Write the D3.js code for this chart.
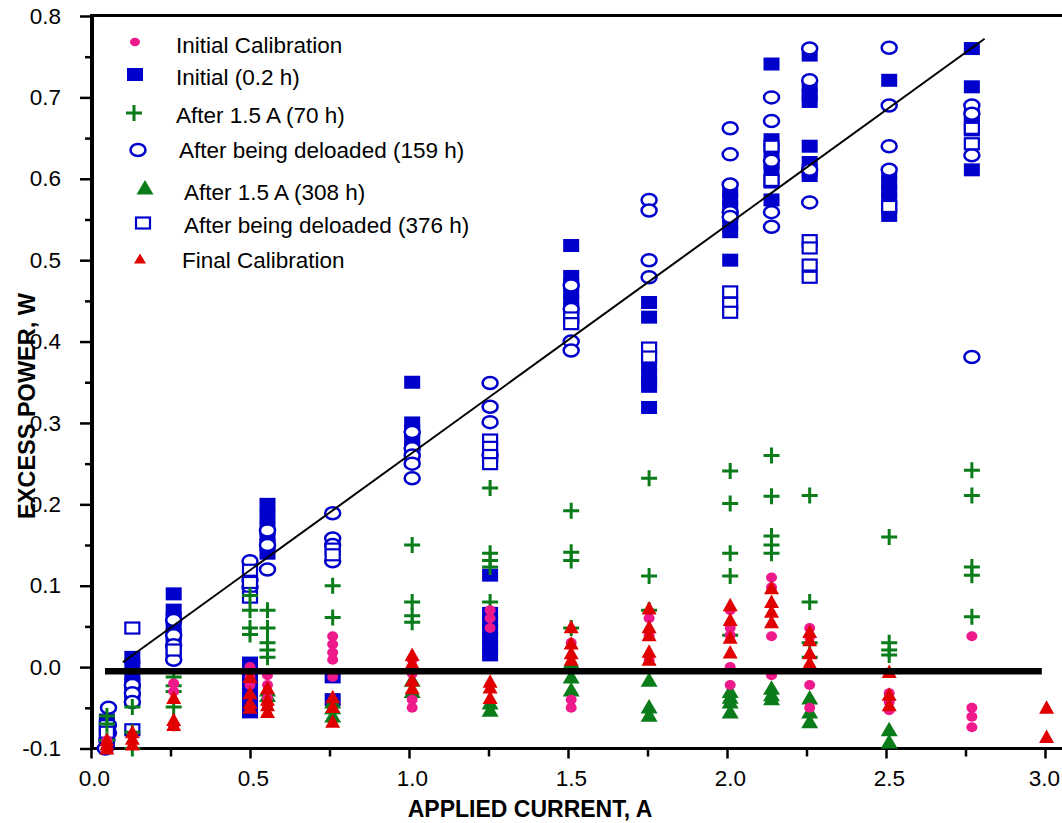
<!DOCTYPE html>
<html><head><meta charset="utf-8">
<script src="https://cdn.jsdelivr.net/npm/d3@7"></script>
<style>body{margin:0;background:#fff}svg{display:block;font-family:"Liberation Sans",Arial,sans-serif}</style>
</head><body><svg id="c" width="1062" height="823"></svg>
<script>
// ---- data: [applied current (A), excess power (W)] ----
const initialCalibration = [
 [0.05,-0.09],
 [0.26,-0.02],[0.26,-0.03],[0.26,-0.073],
 [0.50,0.0],[0.50,-0.012],[0.50,-0.022],
 [0.555,-0.01],[0.555,-0.022],[0.555,-0.038],[0.555,-0.049],
 [0.76,0.038],[0.76,0.028],[0.76,0.018],[0.76,0.009],[0.76,-0.012],
 [1.01,0.009],[1.01,-0.008],[1.01,-0.04],[1.01,-0.05],
 [1.255,0.07],[1.255,0.06],[1.255,0.048],
 [1.51,0.03],[1.51,-0.04],[1.51,-0.05],
 [1.755,0.06],[1.755,0.039],[1.755,0.009],
 [2.01,0.07],[2.01,0.048],[2.01,0.039],[2.01,0.0],[2.01,-0.022],
 [2.14,0.11],[2.14,0.098],[2.14,0.038],[2.14,-0.01],
 [2.26,0.048],[2.26,0.037],[2.26,0.0],[2.26,-0.022],[2.26,-0.05],
 [2.51,-0.032],[2.51,-0.043],[2.51,-0.053],
 [2.77,0.038],[2.77,-0.05],[2.77,-0.061],[2.77,-0.074]
];
const initial02h = [
 [0.05,-0.065],[0.05,-0.075],[0.05,-0.085],[0.05,-0.092],
 [0.13,0.012],[0.13,0.0],[0.13,-0.01],[0.13,-0.02],[0.13,-0.03],[0.13,-0.04],
 [0.26,0.09],[0.26,0.07],[0.26,0.06],[0.26,0.05],[0.26,0.04],[0.26,0.03],[0.26,0.02],
 [0.50,0.005],[0.50,-0.005],[0.50,-0.02],[0.50,-0.035],[0.50,-0.045],[0.50,-0.055],
 [0.555,0.2],[0.555,0.185],[0.555,0.17],[0.555,0.16],[0.555,0.15],[0.555,0.14],
 [0.76,-0.012],[0.76,-0.04],
 [1.01,0.35],[1.01,0.30],[1.01,0.29],[1.01,0.28],[1.01,0.27],[1.01,0.26],
 [1.255,0.113],[1.255,0.066],[1.255,0.055],[1.255,0.045],[1.255,0.035],[1.255,0.025],[1.255,0.015],
 [1.51,0.518],[1.51,0.48],[1.51,0.47],[1.51,0.46],[1.51,0.45],[1.51,0.44],[1.51,0.43],
 [1.755,0.448],[1.755,0.43],[1.755,0.37],[1.755,0.36],[1.755,0.35],[1.755,0.345],[1.755,0.319],
 [2.01,0.585],[2.01,0.575],[2.01,0.565],[2.01,0.555],[2.01,0.545],[2.01,0.535],[2.01,0.50],
 [2.14,0.741],[2.14,0.648],[2.14,0.635],[2.14,0.62],[2.14,0.61],[2.14,0.596],[2.14,0.574],
 [2.26,0.752],[2.26,0.713],[2.26,0.703],[2.26,0.695],[2.26,0.64],[2.26,0.62],[2.26,0.61],[2.26,0.604],
 [2.51,0.721],[2.51,0.607],[2.51,0.595],[2.51,0.585],[2.51,0.575],[2.51,0.565],[2.51,0.555],
 [2.77,0.76],[2.77,0.713],[2.77,0.678],[2.77,0.668],[2.77,0.66],[2.77,0.611]
];
const after70h = [
 [0.05,-0.06],[0.05,-0.07],[0.05,-0.09],
 [0.13,-0.049],[0.13,-0.08],[0.13,-0.1],
 [0.26,-0.012],[0.26,-0.023],[0.26,-0.03],[0.26,-0.049],
 [0.50,0.088],[0.50,0.07],[0.50,0.048],[0.50,0.04],
 [0.555,0.07],[0.555,0.048],[0.555,0.03],[0.555,0.021],[0.555,0.012],
 [0.76,0.1],[0.76,0.061],
 [1.01,0.15],[1.01,0.08],[1.01,0.063],[1.01,0.055],
 [1.255,0.22],[1.255,0.14],[1.255,0.131],[1.255,0.123],[1.255,0.08],
 [1.51,0.192],[1.51,0.141],[1.51,0.131],[1.51,0.048],
 [1.755,0.232],[1.755,0.112],[1.755,0.07],
 [2.01,0.241],[2.01,0.201],[2.01,0.14],[2.01,0.112],[2.01,0.039],
 [2.14,0.26],[2.14,0.21],[2.14,0.161],[2.14,0.15],[2.14,0.14],
 [2.26,0.211],[2.26,0.08],[2.26,0.03],[2.26,0.012],
 [2.51,0.16],[2.51,0.03],[2.51,0.021],[2.51,0.015],
 [2.77,0.242],[2.77,0.211],[2.77,0.123],[2.77,0.113],[2.77,0.062]
];
const deloaded159h = [
 [0.055,-0.05],[0.055,-0.071],[0.055,-0.081],[0.05,-0.09],[0.045,-0.1],
 [0.13,-0.022],[0.13,-0.032],[0.13,-0.043],
 [0.26,0.058],[0.26,0.039],[0.26,0.027],[0.26,0.009],
 [0.50,0.13],[0.50,0.107],[0.50,0.098],
 [0.555,0.168],[0.555,0.15],[0.555,0.12],
 [0.76,0.189],[0.76,0.158],[0.76,0.15],[0.76,0.13],
 [1.01,0.289],[1.01,0.269],[1.01,0.26],[1.01,0.25],[1.01,0.232],
 [1.255,0.349],[1.255,0.32],[1.255,0.301],[1.255,0.26],
 [1.51,0.469],[1.51,0.44],[1.51,0.4],[1.51,0.389],
 [1.755,0.574],[1.755,0.561],[1.755,0.5],[1.755,0.479],
 [2.01,0.662],[2.01,0.63],[2.01,0.593],[2.01,0.559],[2.01,0.553],
 [2.14,0.7],[2.14,0.671],[2.14,0.622],[2.14,0.559],[2.14,0.541],
 [2.26,0.76],[2.26,0.721],[2.26,0.611],[2.26,0.571],
 [2.51,0.761],[2.51,0.69],[2.51,0.64],[2.51,0.611],
 [2.77,0.69],[2.77,0.68],[2.77,0.629],[2.77,0.381]
];
const after308h = [
 [0.555,-0.028],[0.555,-0.035],
 [0.76,-0.043],[0.76,-0.05],[0.76,-0.06],
 [1.01,-0.016],[1.01,-0.03],
 [1.255,-0.044],[1.255,-0.053],
 [1.51,0.006],[1.51,-0.012],[1.51,-0.028],
 [1.755,-0.016],[1.755,-0.049],[1.755,-0.059],
 [2.01,-0.03],[2.01,-0.037],[2.01,-0.043],[2.01,-0.055],
 [2.14,-0.026],[2.14,-0.034],[2.14,-0.039],
 [2.26,-0.038],[2.26,-0.055],[2.26,-0.067],
 [2.51,-0.077],[2.51,-0.092]
];
const deloaded376h = [
 [0.05,-0.072],[0.05,-0.08],
 [0.13,0.048],[0.13,-0.077],
 [0.26,0.021],
 [0.50,0.119],[0.50,0.104],[0.50,0.086],
 [0.76,0.145],[0.76,0.138],
 [1.255,0.279],[1.255,0.27],[1.255,0.26],[1.255,0.25],
 [1.51,0.429],[1.51,0.422],
 [1.755,0.392],[1.755,0.381],
 [2.01,0.461],[2.01,0.447],[2.01,0.436],
 [2.14,0.64],[2.14,0.598],
 [2.26,0.524],[2.26,0.515],[2.26,0.494],[2.26,0.479],
 [2.51,0.566],
 [2.77,0.662],[2.77,0.643]
];
const finalCalibration = [
 [0.05,-0.09],[0.05,-0.095],[0.05,-0.1],
 [0.13,-0.08],[0.13,-0.088],[0.13,-0.095],
 [0.26,-0.038],[0.26,-0.065],[0.26,-0.071],
 [0.50,-0.012],[0.50,-0.032],[0.50,-0.044],[0.50,-0.05],
 [0.555,-0.026],[0.555,-0.04],[0.555,-0.047],[0.555,-0.055],
 [0.76,-0.037],[0.76,-0.049],[0.76,-0.067],
 [1.01,0.015],[1.01,0.005],[1.01,-0.016],[1.01,-0.026],
 [1.255,-0.018],[1.255,-0.025],[1.255,-0.038],
 [1.51,0.049],[1.51,0.029],[1.51,0.017],[1.51,0.009],
 [1.755,0.072],[1.755,0.049],[1.755,0.039],[1.755,0.019],[1.755,0.009],
 [2.01,0.076],[2.01,0.058],[2.01,0.036],[2.01,0.018],
 [2.14,0.097],[2.14,0.08],[2.14,0.068],[2.14,0.055],
 [2.26,0.043],[2.26,0.033],[2.26,0.017],[2.26,0.005],
 [2.51,-0.006],[2.51,-0.034],[2.51,-0.047],
 [3.005,-0.05],[3.005,-0.086]
];
const fitLine = [[0.10,0.006],[2.81,0.772]];
const zeroLine = [[0.044,-0.005],[2.99,-0.005]];
const xTicks = [0,0.5,1.0,1.5,2.0,2.5,3.0];
const xMinorTicks = [0.25,0.75,1.25,1.75,2.25,2.75];
const yTicks = [-0.1,0,0.1,0.2,0.3,0.4,0.5,0.6,0.7,0.8];
const yMinorTicks = [-0.05,0.05,0.15,0.25,0.35,0.45,0.55,0.65,0.75];
const legendLabels = ["Initial Calibration","Initial (0.2 h)","After 1.5 A (70 h)","After being deloaded (159 h)","After 1.5 A (308 h)","After being deloaded (376 h)","Final Calibration"];
const xTitle = "APPLIED CURRENT, A";
const yTitle = "EXCESS POWER, W";

// ---- drawing ----
const svg = d3.select("#c");
const x = d3.scaleLinear().domain([0,3]).range([91,1045]);
const y = d3.scaleLinear().domain([-0.1,0.8]).range([748.5,16]);
const BLUE="#0000cc", GREEN="#0a7d1a", PINK="#ee1a8c", RED="#e00000";
const FS = 22.5;

const markers = {
  pink:(g)=>g.append("ellipse").attr("rx",5.5).attr("ry",5).attr("fill",PINK),
  fsq:(g)=>g.append("rect").attr("x",-8).attr("y",-6.5).attr("width",16).attr("height",13).attr("fill",BLUE),
  plus:(g)=>g.append("path").attr("d","M-8,0H8M0,-8V8").attr("stroke",GREEN).attr("stroke-width",3).attr("fill","none"),
  circ:(g)=>g.append("ellipse").attr("rx",7.5).attr("ry",6).attr("fill","#fff").attr("stroke",BLUE).attr("stroke-width",2.5),
  gtri:(g)=>g.append("path").attr("d","M0,-8L8.5,6.5H-8.5Z").attr("fill",GREEN),
  osq:(g)=>g.append("rect").attr("x",-7).attr("y",-5.5).attr("width",14).attr("height",11).attr("fill","#fff").attr("stroke",BLUE).attr("stroke-width",2.2),
  rtri:(g)=>g.append("path").attr("d","M0,-7.5L7.5,6H-7.5Z").attr("fill",RED)
};

function drawSeries(data, kind){
  const g = svg.append("g");
  data.forEach(d=>{
    const m = g.append("g").attr("transform",`translate(${x(d[0])},${y(d[1])})`);
    markers[kind](m);
  });
}

// axes
const yMajor = d3.axisLeft(y).tickValues(yTicks).tickSize(12).tickFormat(d=>d.toFixed(1));
const yMin = d3.axisLeft(y).tickValues(yMinorTicks).tickSize(7).tickFormat("");
const xMajor = d3.axisBottom(x).tickValues(xTicks).tickSize(10).tickFormat(d=>d.toFixed(1));
const xMin = d3.axisBottom(x).tickValues(xMinorTicks).tickSize(8).tickFormat("");

function styleAxis(g){
  g.select(".domain").remove();
  g.selectAll(".tick line").attr("stroke","#000").attr("stroke-width",2.5);
  g.selectAll(".tick text").attr("font-size",FS).attr("fill","#000").attr("font-family","'Liberation Sans',Arial,sans-serif");
}
svg.append("g").attr("transform","translate(92,0)").call(yMajor).call(styleAxis)
  .selectAll(".tick text").attr("x",-31);
svg.append("g").attr("transform","translate(92,0)").call(yMin).call(styleAxis);
svg.append("g").attr("transform","translate(0,748.5)").call(xMajor).call(styleAxis)
  .selectAll(".tick text").attr("y",22).attr("dx",d=>d>=3?-1:3);
svg.append("g").attr("transform","translate(0,748.5)").call(xMin).call(styleAxis);

// frame lines
svg.append("line").attr("x1",92).attr("x2",92).attr("y1",14.5).attr("y2",750).attr("stroke","#000").attr("stroke-width",4);
svg.append("line").attr("x1",90).attr("x2",1062).attr("y1",15.5).attr("y2",15.5).attr("stroke","#000").attr("stroke-width",3);
svg.append("line").attr("x1",90).attr("x2",1062).attr("y1",748.5).attr("y2",748.5).attr("stroke","#000").attr("stroke-width",3);

// series (drawing order)
drawSeries(initial02h,"fsq");
drawSeries(deloaded159h,"circ");
drawSeries(deloaded376h,"osq");
drawSeries(after70h,"plus");
drawSeries(after308h,"gtri");
drawSeries(initialCalibration,"pink");
drawSeries(finalCalibration,"rtri");

// lines
const line = d3.line().x(d=>x(d[0])).y(d=>y(d[1]));
svg.append("path").attr("d",line(zeroLine)).attr("stroke","#000").attr("stroke-width",6.5).attr("fill","none");
svg.append("path").attr("d",line(fitLine)).attr("stroke","#000").attr("stroke-width",2).attr("fill","none");

// titles
svg.append("text").attr("x",530).attr("y",817).attr("text-anchor","middle").attr("font-weight","bold")
  .attr("font-size",23).text(xTitle);
svg.append("text").attr("transform","translate(35,406) rotate(-90)").attr("text-anchor","middle").attr("font-weight","bold")
  .attr("font-size",23.5).text(yTitle);

// legend
const legendKinds = ["pink","fsq","plus","circ","gtri","osq","rtri"];
const legendMarkerPos = [[135,42],[135,74.5],[134,113],[138,150],[145,188],[143,223],[140,259]];
const legendTextPos = [[176,53],[176,85],[176,123],[179,158],[184,200],[184,233],[182,268]];
legendKinds.forEach((k,i)=>{
  const m = svg.append("g").attr("transform",`translate(${legendMarkerPos[i][0]},${legendMarkerPos[i][1]})`);
  if(k==="pink") m.append("ellipse").attr("rx",5).attr("ry",4.2).attr("fill",PINK);
  else if(k==="rtri") m.append("path").attr("d","M0,-5.5L6,4.5H-6Z").attr("fill",RED);
  else markers[k](m);
  svg.append("text").attr("x",legendTextPos[i][0]).attr("y",legendTextPos[i][1]).attr("font-size",FS).attr("fill","#000").text(legendLabels[i]);
});
</script></body></html>
